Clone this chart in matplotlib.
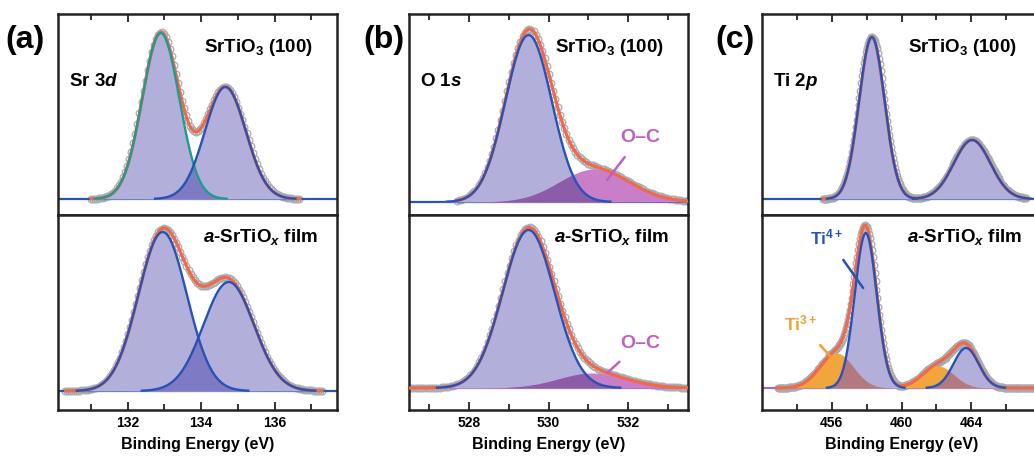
import numpy as np
import matplotlib.pyplot as plt

plt.rcParams['font.family'] = ['Liberation Sans', 'DejaVu Sans']
plt.rcParams['mathtext.fontset'] = 'custom'
plt.rcParams['mathtext.rm'] = 'Liberation Sans:bold'
plt.rcParams['mathtext.bf'] = 'Liberation Sans:bold'
plt.rcParams['mathtext.it'] = 'Liberation Sans:italic:bold'
plt.rcParams['mathtext.bfit'] = 'Liberation Sans:italic:bold'

# peak fits: centers (eV), heights (a.u.), widths (sigma, eV)
sr_top_c = [132.9, 134.66]
sr_top_h = [166, 112]
sr_top_s = [0.505, 0.557]
sr_bot_c = [132.95, 134.75]
sr_bot_h = [159, 109]
sr_bot_s = [0.66, 0.69]

o_top_c = [529.5, 531.15]
o_top_h = [167, 33]
o_top_s = [0.58, 0.88]
o_bot_c = [529.5, 531.1]
o_bot_h = [158, 15]
o_bot_s = [0.65, 0.85]

ti_top_c = [458.3, 464.05]
ti_top_h = [162, 59]
ti_top_s = [0.73, 1.05]
ti4_bot_c = [457.95, 463.7]
ti4_bot_h = [155, 40]
ti4_bot_s = [0.63, 0.72]
ti3_bot_c = [456.28, 462.1]
ti3_bot_h = [35, 22]
ti3_bot_s = [0.95, 0.9]

# measured ranges of the spectra
sr_top_range = (131.0, 136.7)
sr_bot_range = (130.3, 137.3)
o_top_range = (527.7, 533.5)
o_bot_range = (526.5, 533.5)
ti_top_range = (455.5, 467.2)
ti_bot_range = (452.9, 468.0)

xlims = [(130.1, 137.7), (526.5, 533.5), (452.0, 468.0)]
major = [[132, 134, 136], [528, 530, 532], [456, 460, 464]]
minor = [[131, 133, 135, 137], [527, 529, 531, 533], [454, 458, 462, 466]]

LAV = '#b2afdb'
LAV_DARK = '#7e7ac3'
MAG = '#c87ec8'
MAG_DARK = '#8c5ca8'
ORG = '#f2a53c'
ORG_DARK = '#b27a80'
BLUE = '#2653b5'
TEAL = '#1f9c8c'
ENV = '#f26848'
DATA = '#a6adb2'

W, H = 1034, 458


def gauss(x, c, h, s):
    return h * np.exp(-(x - c) ** 2 / (2 * s ** 2))


def rect(left, right, top, bottom):
    return [left / W, 1 - bottom / H, (right - left) / W, (bottom - top) / H]


def style(ax, k, top):
    ax.set_xlim(*xlims[k])
    ax.set_yticks([])
    ax.set_xticks(major[k])
    ax.set_xticks(minor[k], minor=True)
    for sp in ax.spines.values():
        sp.set_linewidth(1.8)
        sp.set_color('#222222')
    if top:
        ax.tick_params(axis='x', which='both', direction='in', top=True, bottom=False,
                       labelbottom=False, width=1.3, color='#222222')
    else:
        ax.tick_params(axis='x', which='both', direction='in', top=False, bottom=True,
                       labelsize=10, pad=4, width=1.3, color='#222222')
        for t in ax.get_xticklabels():
            t.set_fontweight('bold')
        ax.set_xlabel('Binding Energy (eV)', fontsize=11.5, fontweight='bold', labelpad=5)
    ax.tick_params(axis='x', which='major', length=6)
    ax.tick_params(axis='x', which='minor', length=4.5)


def draw(ax, xl, xr, comps, base_color):
    # comps: list of (centers, heights, sigmas, fill, dark, line colours)
    x = np.linspace(xl[0], xl[1], 800)
    xd = np.arange(xr[0], xr[1], 0.055)
    total = np.zeros_like(x)
    totd = np.zeros_like(xd)
    curves = []
    for cs, hs, ss, fill, dark, line in comps:
        for c, h, s, ln in zip(cs, hs, ss, line):
            y = gauss(x, c, h, s)
            total += y
            totd += gauss(xd, c, h, s)
            curves.append((y, fill, dark, ln))
    ax.plot(xd, totd, 'o', ms=4.8, mfc='none', mec=DATA, mew=0.9, zorder=1)
    ax.axhline(0, color=base_color, lw=1.6, zorder=2)
    for y, fill, dark, ln in curves:
        ax.fill_between(x, 0, y, color=fill, lw=0, zorder=3)
    for i in range(len(curves)):
        for j in range(i + 1, len(curves)):
            ov = np.minimum(curves[i][0], curves[j][0])
            if ov.max() > 2:
                ax.fill_between(x, 0, ov, color=curves[i][2], lw=0, zorder=4)
    mask = (x >= xr[0]) & (x <= xr[1])
    ax.plot(x[mask], total[mask], color=ENV, lw=2.3, zorder=5)
    for y, fill, dark, ln in curves:
        if ln is not None:
            m = y > 0.3
            ax.plot(x[m], y[m], color=ln, lw=1.7, zorder=6)


fig = plt.figure(figsize=(W / 100, H / 100), dpi=100)
lefts = [58, 409, 762]
panel_labels = ['(a)', '(b)', '(c)']
panel_x = [5, 363, 715]
core = [r'Sr 3$\mathbfit{d}$', r'O 1$\mathbfit{s}$', r'Ti 2$\mathbfit{p}$']
top_ylims = [(-16, 185), (-13, 188), (-16, 185)]
bot_ylims = [(-19, 176), (-22, 173), (-22, 173)]

axes_top = []
axes_bot = []
for k in range(3):
    axes_top.append(fig.add_axes(rect(lefts[k], lefts[k] + 279, 14, 215)))
    axes_bot.append(fig.add_axes(rect(lefts[k], lefts[k] + 279, 215, 410)))

# (a) Sr 3d
draw(axes_top[0], xlims[0], sr_top_range,
     [(sr_top_c, sr_top_h, sr_top_s, LAV, LAV_DARK, [TEAL, BLUE])], BLUE)
draw(axes_bot[0], xlims[0], sr_bot_range,
     [(sr_bot_c, sr_bot_h, sr_bot_s, LAV, LAV_DARK, [BLUE, BLUE])], BLUE)

# (b) O 1s
draw(axes_top[1], xlims[1], o_top_range,
     [([o_top_c[0]], [o_top_h[0]], [o_top_s[0]], LAV, MAG_DARK, [BLUE]),
      ([o_top_c[1]], [o_top_h[1]], [o_top_s[1]], MAG, MAG_DARK, [None])], BLUE)
draw(axes_bot[1], xlims[1], o_bot_range,
     [([o_bot_c[0]], [o_bot_h[0]], [o_bot_s[0]], LAV, MAG_DARK, [BLUE]),
      ([o_bot_c[1]], [o_bot_h[1]], [o_bot_s[1]], MAG, MAG_DARK, [None])], '#b466c0')

# (c) Ti 2p
draw(axes_top[2], xlims[2], ti_top_range,
     [(ti_top_c, ti_top_h, ti_top_s, LAV, LAV_DARK, [BLUE, BLUE])], BLUE)
draw(axes_bot[2], xlims[2], ti_bot_range,
     [(ti3_bot_c, ti3_bot_h, ti3_bot_s, ORG, ORG_DARK, [None, None]),
      (ti4_bot_c, ti4_bot_h, ti4_bot_s, LAV, ORG_DARK, [BLUE, BLUE])], '#9c6cc4')

for k in range(3):
    at, ab = axes_top[k], axes_bot[k]
    at.set_ylim(*top_ylims[k])
    ab.set_ylim(*bot_ylims[k])
    style(at, k, True)
    style(ab, k, False)
    at.text(0.525, 0.812, r'SrTiO$_\mathbf{3}$ (100)', transform=at.transAxes,
            fontsize=13.5, fontweight='bold', ha='left', va='baseline', zorder=10)
    at.text(0.04, 0.64, core[k], transform=at.transAxes,
            fontsize=13.5, fontweight='bold', ha='left', va='baseline', zorder=10)
    ab.text(0.52, 0.86, r'$\mathbfit{a}$-SrTiO$_\mathbfit{x}$ film', transform=ab.transAxes,
            fontsize=13.5, fontweight='bold', ha='left', va='baseline', zorder=10)
    fig.text(panel_x[k] / W, 1 - 40 / H, panel_labels[k], fontsize=23,
             fontweight='bold', ha='left', va='center')

# annotations
oc_color = '#c060c0'
axes_top[1].annotate('O–C', xy=(531.47, 22), xytext=(532.3, 65), color=oc_color,
                     fontsize=14, fontweight='bold', ha='center', va='center', zorder=10,
                     arrowprops=dict(arrowstyle='-', color=oc_color, lw=1.8, shrinkB=0, shrinkA=8))
axes_bot[1].annotate('O–C', xy=(531.47, 15), xytext=(532.3, 45), color=oc_color,
                     fontsize=14, fontweight='bold', ha='center', va='center', zorder=10,
                     arrowprops=dict(arrowstyle='-', color=oc_color, lw=1.8, shrinkB=0, shrinkA=8))
axes_bot[2].annotate(r'Ti$^{\mathbf{4+}}$', xy=(457.8, 100), xytext=(455.73, 151), color=BLUE,
                     fontsize=12.5, fontweight='bold', ha='center', va='center', zorder=10,
                     arrowprops=dict(arrowstyle='-', color=BLUE, lw=1.8, shrinkB=0, shrinkA=9))
axes_bot[2].annotate(r'Ti$^{\mathbf{3+}}$', xy=(455.9, 32), xytext=(454.2, 65), color='#f0a030',
                     fontsize=12.5, fontweight='bold', ha='center', va='center', zorder=10,
                     arrowprops=dict(arrowstyle='-', color='#f0a030', lw=1.8, shrinkB=0, shrinkA=9))

fig.savefig('out.png', dpi=100)
